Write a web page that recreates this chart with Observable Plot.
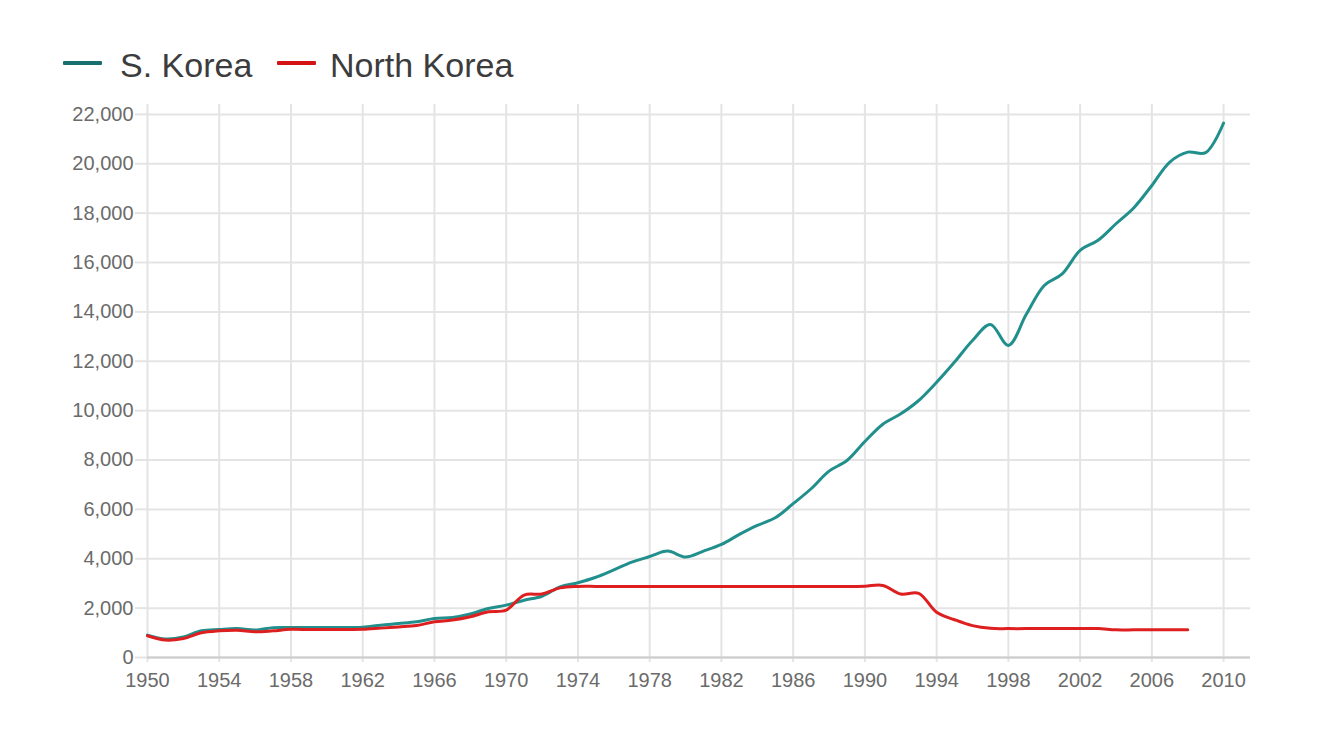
<!DOCTYPE html>
<html>
<head>
<meta charset="utf-8">
<script src="https://cdn.jsdelivr.net/npm/d3@7"></script>
<script src="https://cdn.jsdelivr.net/npm/@observablehq/plot@0.6"></script>
<style>
  html, body { margin: 0; padding: 0; background: #fff; }
  #wrap { position: relative; width: 1333px; height: 750px; overflow: hidden; font-family: "Liberation Sans", Arial, sans-serif; }
  #legend { position: absolute; left: 0; top: 0; width: 1333px; height: 90px; }
  .sw { position: absolute; height: 4px; width: 39px; top: 61px; border-radius: 1px; }
  .lt { position: absolute; top: 48px; font-size: 34px; line-height: 1; color: #3c3c3c; white-space: nowrap; }
  #chart { position: absolute; left: 0; top: 90px; }
</style>
</head>
<body>
<div id="wrap">
  <div id="legend">
    <div class="sw" style="left:63px;background:#17706d"></div>
    <div class="lt" style="left:120px">S. Korea</div>
    <div class="sw" style="left:277px;background:#d41414"></div>
    <div class="lt" style="left:330px">North Korea</div>
  </div>
  <div id="chart"></div>
</div>
<script>
const years = [1950,1951,1952,1953,1954,1955,1956,1957,1958,1959,
  1960,1961,1962,1963,1964,1965,1966,1967,1968,1969,
  1970,1971,1972,1973,1974,1975,1976,1977,1978,1979,
  1980,1981,1982,1983,1984,1985,1986,1987,1988,1989,
  1990,1991,1992,1993,1994,1995,1996,1997,1998,1999,
  2000,2001,2002,2003,2004,2005,2006,2007,2008,2009,2010];

const southKorea = [905,750,830,1080,1135,1170,1110,1210,1215,1215,
  1215,1220,1225,1310,1375,1445,1580,1620,1760,1985,
  2120,2320,2480,2860,3030,3250,3550,3860,4090,4310,
  4070,4310,4580,4985,5350,5660,6230,6835,7550,7980,
  8750,9450,9870,10410,11150,11970,12840,13490,12640,13900,
  15070,15540,16490,16900,17570,18220,19120,20070,20470,20450,21650];

const northKorea = [880,705,770,1000,1080,1105,1040,1080,1140,1135,
  1135,1135,1140,1190,1240,1300,1445,1515,1650,1850,
  1920,2530,2570,2820,2880,2880,2880,2880,2880,2880,
  2880,2880,2880,2880,2880,2880,2880,2880,2880,2880,
  2890,2920,2570,2600,1830,1530,1290,1180,1170,1170,
  1170,1170,1170,1170,1120,1120,1120,1120,1120];

const xTicks = [1950,1954,1958,1962,1966,1970,1974,1978,1982,1986,1990,1994,1998,2002,2006,2010];
const yTicks = [0,2000,4000,6000,8000,10000,12000,14000,16000,18000,20000,22000];

const seriesNames = ["S. Korea", "North Korea"];
const seriesColors = ["#218f8c", "#de1f1f"];

const rows = [];
southKorea.forEach((v, i) => rows.push({year: years[i], value: v, series: seriesNames[0]}));
northKorea.forEach((v, i) => rows.push({year: years[i], value: v, series: seriesNames[1]}));

const gridColor = "#e4e4e4";

const chart = Plot.plot({
  width: 1333,
  height: 660,
  marginLeft: 147,
  marginRight: 83,
  marginTop: 14,
  marginBottom: 93,
  style: {fontFamily: "'Liberation Sans', Arial, sans-serif", fontSize: "20px", background: "#fff"},
  x: {domain: [1950, 2011.5], label: null},
  y: {domain: [0, 22400], label: null},
  color: {domain: seriesNames, range: seriesColors},
  marks: [
    Plot.gridX(xTicks, {stroke: gridColor, strokeOpacity: 1, strokeWidth: 2}),
    Plot.gridY(yTicks, {stroke: gridColor, strokeOpacity: 1, strokeWidth: 2}),
    Plot.axisX(xTicks, {tickSize: 5, tickPadding: 10, stroke: gridColor, strokeWidth: 2, fill: "#6b6b6b", tickFormat: d => String(d), label: null}),
    Plot.axisY(yTicks, {tickSize: 12, tickPadding: 2, stroke: gridColor, strokeWidth: 2, fill: "#6b6b6b", tickFormat: d3.format(","), label: null}),
    Plot.ruleY([0], {stroke: "#cccccc", strokeWidth: 2}),
    Plot.line(rows, {x: "year", y: "value", z: "series", stroke: "series", strokeWidth: 3, curve: "catmull-rom"})
  ]
});
document.getElementById("chart").appendChild(chart);
</script>
</body>
</html>
